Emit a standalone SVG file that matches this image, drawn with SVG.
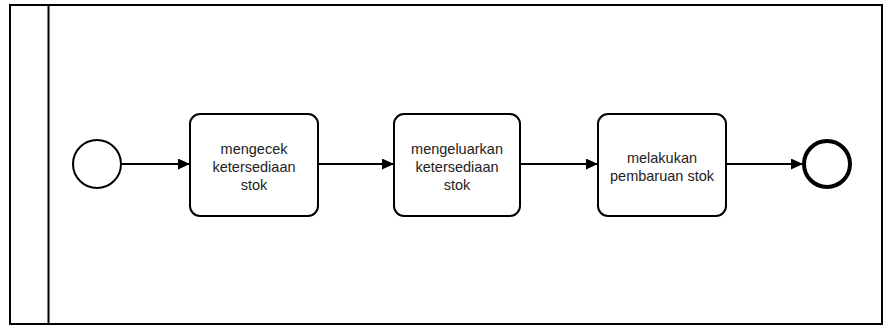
<svg xmlns="http://www.w3.org/2000/svg" width="893" height="327" viewBox="0 0 893 327">
<defs>
<style>
.task{fill:#fff;stroke:#000;stroke-width:2}
.lbl{font-family:"Liberation Sans",Arial,sans-serif;font-size:14.5px;fill:#222;text-anchor:middle}
.conn{fill:none;stroke:#000;stroke-width:2}
</style>
<marker id="arr" viewBox="0 0 12 11" refX="12" refY="5.5" markerWidth="12" markerHeight="11" orient="auto" markerUnits="userSpaceOnUse">
<path d="M0,0 L12,5.5 L0,11 z" fill="#000"/>
</marker>
</defs>
<rect width="893" height="327" fill="#fff"/>
<g id="pool">
<rect x="10" y="5" width="872" height="319" fill="none" stroke="#000" stroke-width="2"/>
<line x1="48.5" y1="5" x2="48.5" y2="324" stroke="#000" stroke-width="2"/>
</g>
<g id="connectors">
<line class="conn" x1="121" y1="164" x2="190" y2="164" marker-end="url(#arr)"/>
<line class="conn" x1="318" y1="164" x2="394" y2="164" marker-end="url(#arr)"/>
<line class="conn" x1="520" y1="164" x2="598" y2="164" marker-end="url(#arr)"/>
<line class="conn" x1="726" y1="164" x2="803" y2="164" marker-end="url(#arr)"/>
</g>
<g id="start">
<circle cx="97" cy="164" r="24" fill="#fff" stroke="#000" stroke-width="2"/>
</g>
<g id="task1">
<rect class="task" x="190" y="114" width="128" height="102" rx="10"/>
<text class="lbl" x="254" y="154">mengecek</text>
<text class="lbl" x="254" y="172">ketersediaan</text>
<text class="lbl" x="254" y="190">stok</text>
</g>
<g id="task2">
<rect class="task" x="394" y="114" width="126" height="102" rx="10"/>
<text class="lbl" x="457" y="154">mengeluarkan</text>
<text class="lbl" x="457" y="172">ketersediaan</text>
<text class="lbl" x="457" y="190">stok</text>
</g>
<g id="task3">
<rect class="task" x="598" y="114" width="128" height="102" rx="10"/>
<text class="lbl" x="662" y="163">melakukan</text>
<text class="lbl" x="662" y="181">pembaruan stok</text>
</g>
<g id="end">
<circle cx="827" cy="164" r="23" fill="#fff" stroke="#000" stroke-width="4"/>
</g>
</svg>
